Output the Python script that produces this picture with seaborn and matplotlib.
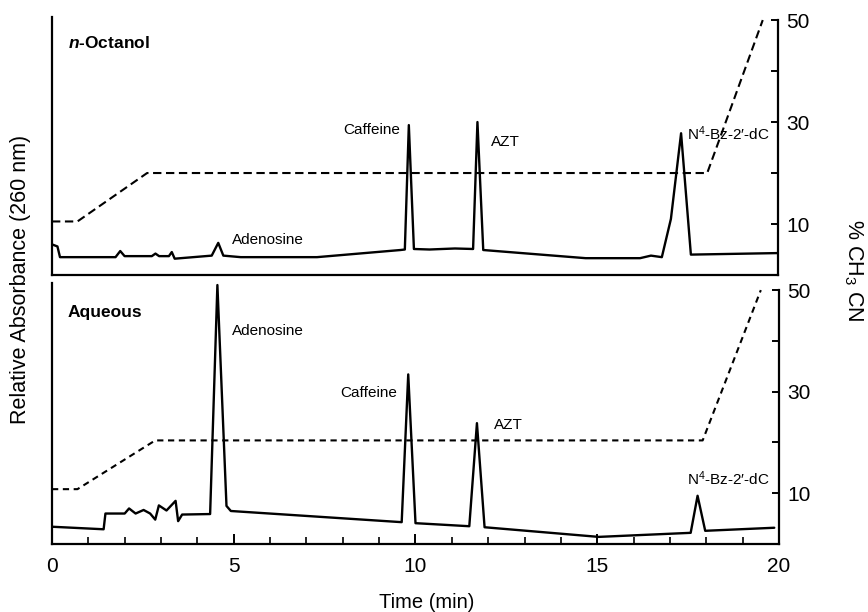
import seaborn as sns
import matplotlib.pyplot as plt
from matplotlib.ticker import MultipleLocator

# n-Octanol phase chromatogram (time in min, relative absorbance)
oct_time = [0, 0.15, 0.22, 1.75, 1.88, 2.0, 2.75, 2.85, 2.95, 3.22, 3.3, 3.38,
            4.4, 4.58, 4.72, 5.2, 7.3, 9.6, 9.72, 9.83, 9.97, 10.4, 11.1, 11.6,
            11.72, 11.88, 14.7, 16.2, 16.5, 16.8, 17.05, 17.33, 17.6, 20.0]
oct_abs = [6.0, 5.6, 3.5, 3.5, 4.7, 3.7, 3.7, 4.2, 3.7, 3.7, 4.5, 3.2,
           3.8, 6.3, 3.8, 3.5, 3.5, 4.9, 5.0, 29.4, 5.1, 5.0, 5.2, 5.1,
           30.0, 4.9, 3.3, 3.3, 3.8, 3.5, 11.0, 27.8, 4.0, 4.3]

# aqueous phase chromatogram
aq_time = [0, 1.42, 1.47, 2.0, 2.12, 2.3, 2.52, 2.7, 2.84, 2.94, 3.15, 3.4,
           3.47, 3.58, 4.35, 4.55, 4.8, 4.92, 9.62, 9.8, 10.0, 10.5, 11.48,
           11.69, 11.9, 15.04, 17.57, 17.76, 17.97, 19.87]
aq_abs = [3.4, 2.9, 6.0, 6.0, 7.0, 6.0, 6.7, 6.0, 4.8, 7.6, 6.6, 8.5,
          4.5, 5.8, 5.9, 51.0, 7.5, 6.5, 4.3, 33.4, 4.1, 3.9, 3.5,
          23.8, 3.3, 1.4, 2.2, 9.5, 2.6, 3.2]

# acetonitrile gradient (%)
oct_grad_time = [0, 0.7, 2.62, 18.05, 19.58]
oct_grad_pct = [10.5, 10.5, 20, 20, 50]
aq_grad_time = [0, 0.7, 2.84, 17.9, 19.5]
aq_grad_pct = [10.8, 10.8, 20.4, 20.4, 50]

pct_ticks = [10, 20, 30, 40, 50]
pct_labels = ['10', '', '30', '', '50']
time_ticks = [0, 5, 10, 15, 20]

n4 = 'N$^{4}$-Bz-2\u2032-dC'
# peak labels: text, time, height, alignment
oct_labels = [('Caffeine', 9.59, 28.4, 'right'), ('AZT', 12.1, 26.1, 'left'),
              (n4, 17.5, 27.8, 'left'), ('Adenosine', 4.96, 6.9, 'left')]
aq_labels = [('Adenosine', 4.96, 42.0, 'left'), ('Caffeine', 9.5, 29.7, 'right'),
             ('AZT', 12.15, 23.4, 'left'), (n4, 17.47, 12.8, 'left')]

sns.set_theme(style='white')
plt.rcParams['font.family'] = ['Liberation Sans', 'DejaVu Sans']
plt.rcParams['text.color'] = 'black'
plt.rcParams['axes.labelcolor'] = 'black'
plt.rcParams['xtick.color'] = 'black'
plt.rcParams['ytick.color'] = 'black'
plt.rcParams['mathtext.fontset'] = 'custom'
plt.rcParams['mathtext.rm'] = 'Liberation Sans'
plt.rcParams['mathtext.it'] = 'Liberation Sans:italic:bold'
plt.rcParams['mathtext.bf'] = 'Liberation Sans:bold'

fig = plt.figure(figsize=(8.68, 6.12), dpi=100)
W, H = 868, 612


def panel(rect, ytop, t, a, gt, gp, dash, labels, title, bottom):
    ax = fig.add_axes(rect)
    sns.lineplot(x=t, y=a, ax=ax, color='black', lw=1.7, estimator=None, sort=False)
    ax.set_xlim(0, 20)
    ax.set_ylim(0, ytop)
    ax.set_yticks([])
    ax.set_ylabel('')
    ax2 = ax.twinx()
    sns.lineplot(x=gt, y=gp, ax=ax2, color='black', lw=1.5, estimator=None,
                 linestyle=(0, dash))
    ax2.set_ylim(0, ytop)
    ax2.set_yticks(pct_ticks)
    ax2.set_yticklabels(pct_labels)
    ax2.tick_params(axis='y', direction='in', length=5, width=1.4, pad=6,
                    labelsize=15, right=True, colors='black')
    ax2.set_ylabel('')
    for a_ in (ax, ax2):
        a_.spines['top'].set_visible(False)
        for s in a_.spines.values():
            s.set_linewidth(1.6)
            s.set_color('black')
    ax.spines['right'].set_visible(False)
    ax2.spines['left'].set_visible(False)
    ax2.spines['bottom'].set_visible(False)
    ax2.spines['right'].set_bounds(0, 50)
    if bottom:
        ax.set_xticks(time_ticks)
        ax.xaxis.set_minor_locator(MultipleLocator(1))
        ax.tick_params(axis='x', which='major', direction='in', length=7, width=1.4,
                       pad=9, labelsize=15, bottom=True, colors='black')
        ax.tick_params(axis='x', which='minor', direction='in', length=5, width=1.2,
                       bottom=True, colors='black')
    else:
        ax.set_xticks([])
    for txt, x, y, ha in labels:
        ax.text(x, y, txt, ha=ha, va='center', fontsize=11)
    ax.text(0.44, 45.5, title, ha='left', va='center', fontsize=12.5, fontweight='bold')
    return ax


panel([52 / W, 1 - 275 / H, 726 / W, 258 / H], 50.6, oct_time, oct_abs,
      oct_grad_time, oct_grad_pct, (4, 2.2), oct_labels, '$\\mathit{n}$-Octanol', False)
panel([52 / W, 1 - 544 / H, 727 / W, 261 / H], 51.4, aq_time, aq_abs,
      aq_grad_time, aq_grad_pct, (3, 2.2), aq_labels, 'Aqueous', True)

fig.text(21 / W, 1 - 279 / H, 'Relative Absorbance (260 nm)', rotation=90,
         ha='center', va='center', fontsize=15.5)
fig.text(853 / W, 1 - 270 / H, '% CH$_3$ CN', rotation=-90,
         ha='center', va='center', fontsize=15.5)
fig.text(427 / W, 1 - 602 / H, 'Time (min)', ha='center', va='center', fontsize=14.5)

fig.savefig('out.png', dpi=100)
